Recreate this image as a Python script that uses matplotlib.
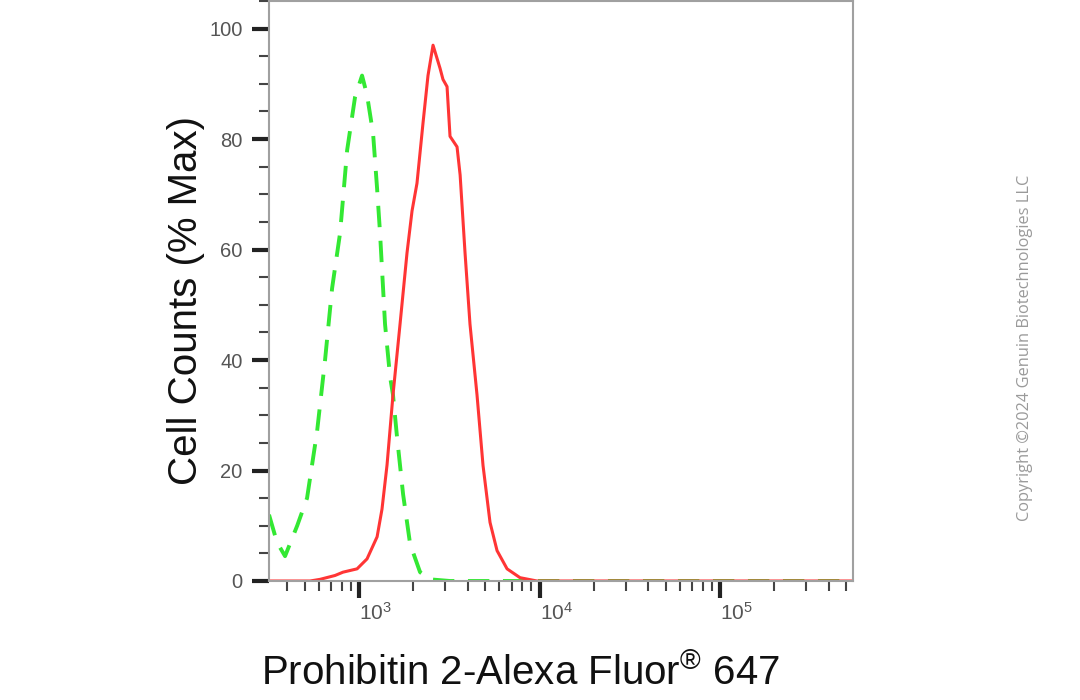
import matplotlib
matplotlib.use("Agg")
import matplotlib.pyplot as plt
from matplotlib.ticker import LogLocator, MultipleLocator, NullFormatter

plt.rcParams['font.family'] = ['Liberation Sans', 'DejaVu Sans']
plt.rcParams['mathtext.fontset'] = 'custom'
plt.rcParams['mathtext.rm'] = 'Liberation Sans'
plt.rcParams['mathtext.default'] = 'regular'

# isotype control (green dashed)
ctrl_x = [317, 351, 389, 454, 515, 585, 648, 709, 785, 859, 950, 1039, 1107,
          1196, 1259, 1307, 1393, 1485, 1542, 1624, 1754, 1918, 2178, 2474,
          3192, 4677, 7798, 21630, 77400, 545800]
ctrl_y = [12, 7, 4.5, 10, 15, 27, 40, 53, 63, 78, 87.6, 91.5, 88,
          81, 71, 63, 46.5, 37, 33.7, 26, 15.7, 6.7, 1.6, 0.3,
          0, 0, 0, 0, 0, 0]

# Prohibitin 2 stained (red solid)
ab_x = [317, 535, 608, 736, 815, 975, 1107, 1259, 1340, 1429, 1542, 1687,
        1844, 1966, 2094, 2263, 2410, 2570, 2811, 2918, 3073, 3192, 3491,
        3631, 3866, 4118, 4504, 4864, 5318, 5816, 6610, 7798, 9683, 545800]
ab_y = [0, 0, 0.3, 1, 1.6, 2.2, 4, 8, 13, 21, 33.7, 46.5,
        59.4, 67, 72, 83, 91.5, 97, 92.8, 90.8, 89.5, 80.5, 78.6,
        73.5, 59.4, 46.5, 33.7, 20.9, 10.6, 5.5, 2.2, 0.6, 0, 0]

fig = plt.figure(figsize=(10.8, 7), dpi=100)
ax = fig.add_axes([269 / 1080, 119 / 700, 584 / 1080, 580 / 700])

ax.plot(ctrl_x, ctrl_y, color='#33e833', lw=2.8, ls=(0, (5.5, 3.5)))
ax.plot(ab_x, ab_y, color='#ff3535', lw=2.2)

ax.set_xscale('log')
ax.set_xlim(10 ** 2.501, 10 ** 5.737)
ax.set_ylim(0, 105)

ax.xaxis.set_major_locator(LogLocator(base=10, subs=(1.0,)))
ax.xaxis.set_minor_locator(LogLocator(base=10, subs=range(2, 10)))
ax.xaxis.set_minor_formatter(NullFormatter())
ax.set_xticks([1e3, 1e4, 1e5])
ax.yaxis.set_major_locator(MultipleLocator(20))
ax.yaxis.set_minor_locator(MultipleLocator(5))

ax.tick_params(which='major', direction='out', length=12, width=3,
               color='#222222', labelcolor='#555555')
ax.tick_params(axis='y', which='major', labelsize=14.5, pad=7)
ax.tick_params(axis='x', which='major', labelsize=15, pad=3)
ax.tick_params(which='minor', direction='out', length=7, width=1.5,
               color='#444444')
for lab in ax.get_xticklabels():
    lab.set_ha('left')

for s in ax.spines.values():
    s.set_color('#a0a0a0')
    s.set_linewidth(1.5)

ax.set_ylabel('Cell Counts (% Max)', fontsize=29, color='#111111')
ax.yaxis.set_label_coords(-0.11, 0.483)
ax.set_xlabel('Prohibitin 2-Alexa Fluor$^{®}$ 647', fontsize=29, color='#111111')
ax.xaxis.set_label_coords(0.43, -0.125)

fig.text(0.949, 0.503, 'Copyright \u00a92024 Genuin Biotechnologies LLC',
         rotation=90, ha='center', va='center', fontsize=11.8,
         color='#9a9a9a', family=['Open Sans', 'DejaVu Sans'])

fig.savefig('out.png', dpi=100)
